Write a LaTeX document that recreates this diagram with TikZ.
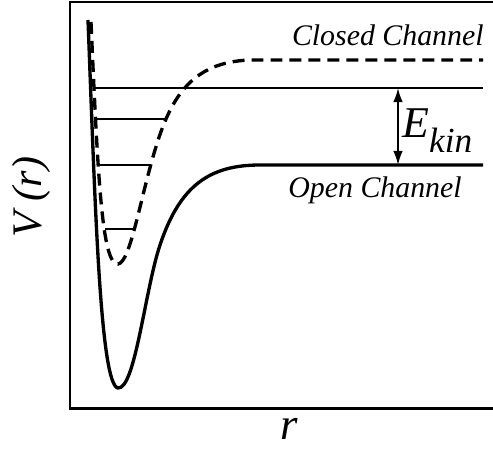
\documentclass[tikz,border=0pt]{standalone}
\usepackage{fontspec}
\setmainfont{Liberation Serif}
\usetikzlibrary{arrows.meta}
\begin{document}
\begin{tikzpicture}[x=0.02cm, y=-0.02cm, every node/.style={inner sep=0pt},
    font=\fontsize{17}{20}\selectfont\itshape,
    frame/.style={line width=1.7pt},
    openpot/.style={line width=1.9pt},
    closedpot/.style={line width=1.9pt, dash pattern=on 6.8pt off 4pt},
    level/.style={line width=1.1pt},
    ekinarrow/.style={line width=1.1pt, {Latex[length=8pt,width=5.5pt]}-{Latex[length=8pt,width=5.5pt]}}]
    % Geometry in pixels of the 493x450 figure, y pointing down.
    % Big labels are set at 17pt and scaled up.
    \useasboundingbox (0,0) rectangle (493,450);

    % Axes box (open on the right)
    \draw[frame] (493,2) -- (70,2) -- (70,408) -- (493,408);

    % Open channel potential (solid)
    \draw[openpot] (88,20) .. controls (95,200) and (100,385) .. (118,388)
                           .. controls (135,390) and (145,290) .. (160,245)
                           .. controls (180,185) and (210,165) .. (260,165)
                           -- (483,165);

    % Closed channel potential (dashed)
    \draw[closedpot] (91,22) .. controls (98,180) and (102,265) .. (118,264)
                             .. controls (130,263) and (140,200) .. (155,150)
                             .. controls (170,100) and (190,62) .. (250,60)
                             -- (483,60);

    % Bound levels of the closed channel
    \draw[level] (94,88) -- (183,88);
    \draw[line width=0.8pt] (183,88) -- (483,88);
    \draw[level] (97,119) -- (166,119);
    \draw[level] (100,165) -- (151,165);
    \draw[level] (105,229) -- (133,229);

    % Kinetic energy gap
    \coordinate (ekintop) at (398,88);
    \coordinate (ekinbot) at (398,165);
    \draw[ekinarrow] (ekintop) -- (ekinbot);

    % Labels
    \node[anchor=base east] (closedlbl) at (484,45) {Closed Channel};
    \node[anchor=base west] (openlbl) at (288,197) {Open Channel};
    \node[anchor=base west] (ekinlbl) at (402,137)
        {\scalebox{1.47}{E}\raisebox{-9pt}{\scalebox{1.18}{kin}}};
    \node[rotate=90] (vlbl) at (31,197) {\scalebox{1.41}{V (r)}};
    \node[anchor=base] (rlbl) at (289,439) {\scalebox{1.5}{r}};
\end{tikzpicture}
\end{document}
